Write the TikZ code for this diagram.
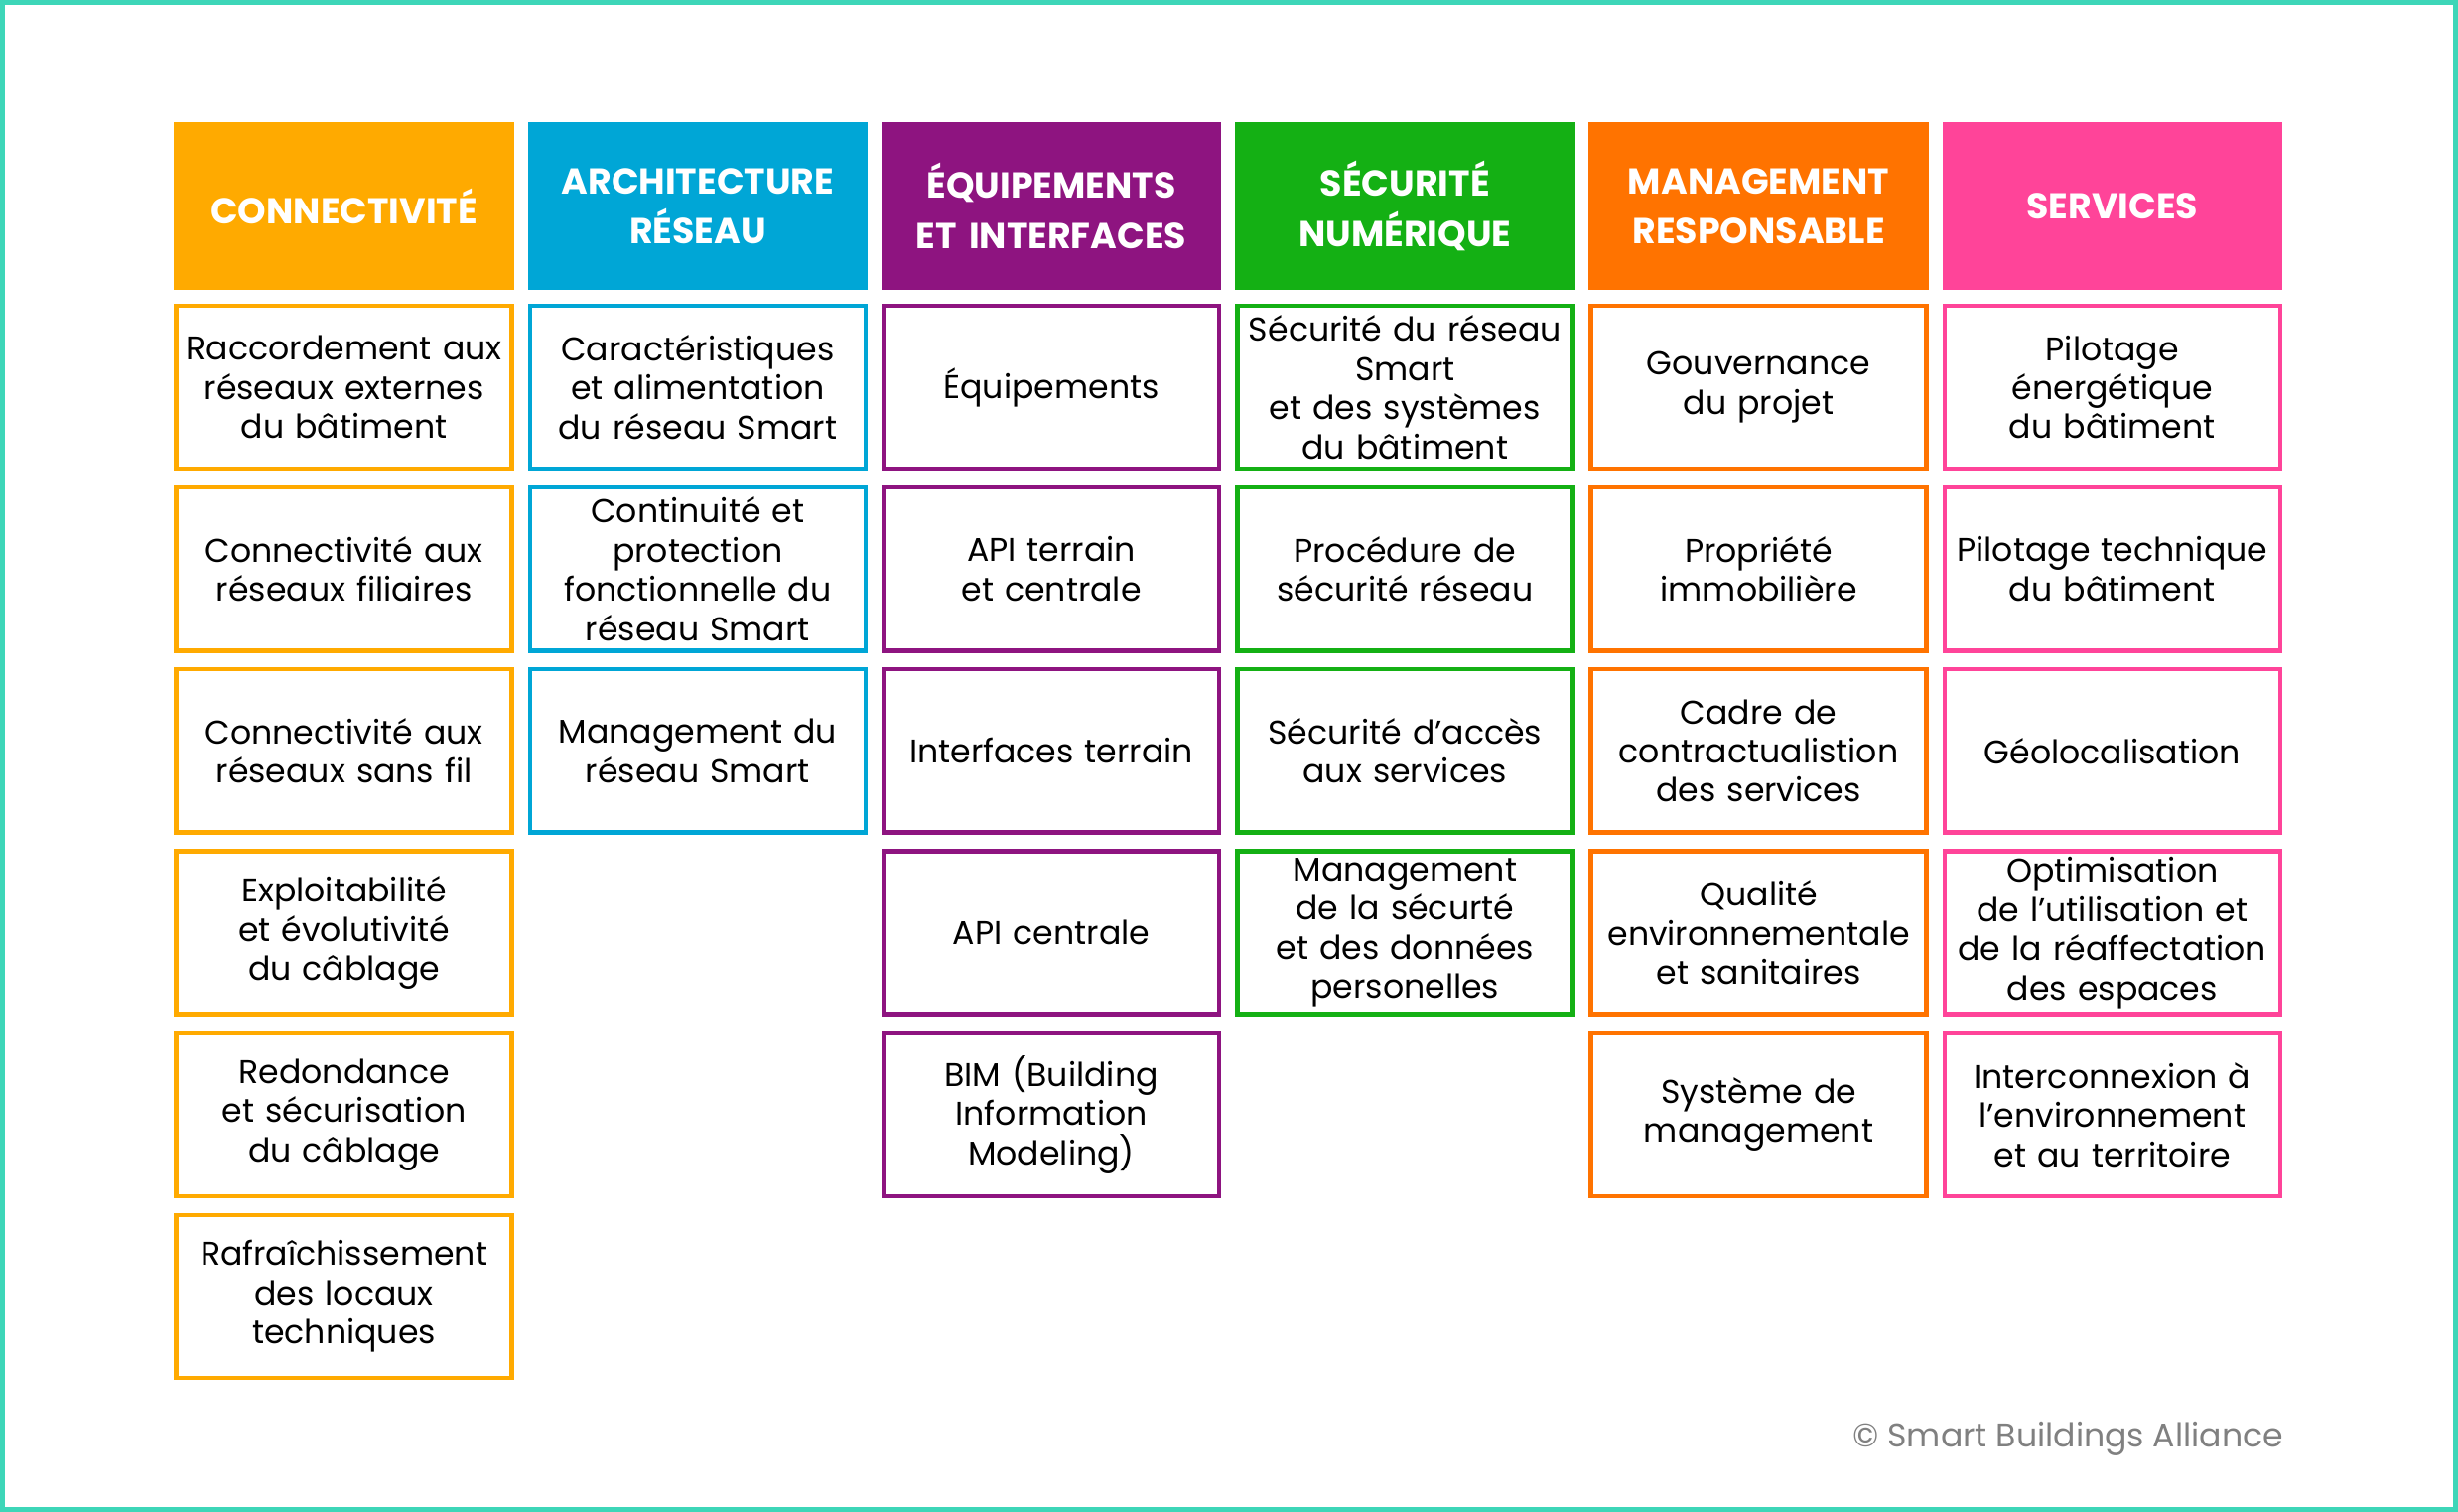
\documentclass[tikz,border=0pt]{standalone}
\usepackage{fontspec}
\setmainfont{Poppins}
\definecolor{cA}{HTML}{FFAA00}
\definecolor{cB}{HTML}{00A6D6}
\definecolor{cC}{HTML}{8E1480}
\definecolor{cD}{HTML}{14B014}
\definecolor{cE}{HTML}{FF7300}
\definecolor{cF}{HTML}{FF4499}
\definecolor{frame}{HTML}{3DD6B8}
\newcommand\colx[1]{\fpeval{219.5+225.6*(#1)}}
\newcommand\mkhead[4]{\node[head,fill=#3] (#1) at ({219.5+225.6*#2},131.5) {#4};}
\newcommand\mkcell[5]{\node[cell,draw=#4] (#1) at ({219.5+225.6*#2},{247+116*#3}) {#5};}
\begin{document}
\begin{tikzpicture}[x=0.5pt,y=-0.5pt,
 head/.style={minimum width=108.5pt,minimum height=53.5pt,inner sep=0pt,text=white,align=center,font=\fontsize{11.5}{16}\selectfont\bfseries,text width=106pt},
 cell/.style={minimum width=107pt,minimum height=52pt,inner sep=0pt,line width=1.4pt,align=center,text width=103pt,font=\fontsize{10.5}{12.5}\selectfont}]
\useasboundingbox (0,0) rectangle (1568,964);
\draw[frame,line width=2pt] (1,1) rectangle (1567,963);
\mkhead{h1}{0}{cA}{CONNECTIVITÉ}
\mkhead{h2}{1}{cB}{ARCHITECTURE\\RÉSEAU}
\mkhead{h3}{2}{cC}{ÉQUIPEMENTS\\ET INTERFACES}
\mkhead{h4}{3}{cD}{SÉCURITÉ\\NUMÉRIQUE}
\mkhead{h5}{4}{cE}{MANAGEMENT\\RESPONSABLE}
\mkhead{h6}{5}{cF}{SERVICES}
\mkcell{a0}{0}{0}{cA}{Raccordement aux\\réseaux externes\\du bâtiment}
\mkcell{a1}{0}{1}{cA}{Connectivité aux\\réseaux filiaires}
\mkcell{a2}{0}{2}{cA}{Connectivité aux\\réseaux sans fil}
\mkcell{a3}{0}{3}{cA}{Exploitabilité\\et évolutivité\\du câblage}
\mkcell{a4}{0}{4}{cA}{Redondance\\et sécurisation\\du câblage}
\mkcell{a5}{0}{5}{cA}{Rafraîchissement\\des locaux\\techniques}
\mkcell{b0}{1}{0}{cB}{Caractéristiques\\et alimentation\\du réseau Smart}
\mkcell{b1}{1}{1}{cB}{Continuité et\\protection\\fonctionnelle du\\réseau Smart}
\mkcell{b2}{1}{2}{cB}{Management du\\réseau Smart}
\mkcell{c0}{2}{0}{cC}{Équipements}
\mkcell{c1}{2}{1}{cC}{API terrain\\et centrale}
\mkcell{c2}{2}{2}{cC}{Interfaces terrain}
\mkcell{c3}{2}{3}{cC}{API centrale}
\mkcell{c4}{2}{4}{cC}{BIM (Building\\Information\\Modeling)}
\mkcell{d0}{3}{0}{cD}{Sécurité du réseau\\Smart\\et des systèmes\\du bâtiment}
\mkcell{d1}{3}{1}{cD}{Procédure de\\sécurité réseau}
\mkcell{d2}{3}{2}{cD}{Sécurité d’accès\\aux services}
\mkcell{d3}{3}{3}{cD}{Management\\de la sécurté\\et des données\\personelles}
\mkcell{e0}{4}{0}{cE}{Gouvernance\\du projet}
\mkcell{e1}{4}{1}{cE}{Propriété\\immobilière}
\mkcell{e2}{4}{2}{cE}{Cadre de\\contractualistion\\des services}
\mkcell{e3}{4}{3}{cE}{Qualité\\environnementale\\et sanitaires}
\mkcell{e4}{4}{4}{cE}{Système de\\management}
\mkcell{f0}{5}{0}{cF}{Pilotage\\énergétique\\du bâtiment}
\mkcell{f1}{5}{1}{cF}{Pilotage technique\\du bâtiment}
\mkcell{f2}{5}{2}{cF}{Géolocalisation}
\mkcell{f3}{5}{3}{cF}{Optimisation\\de l’utilisation et\\de la réaffectation\\des espaces}
\mkcell{f4}{5}{4}{cF}{Interconnexion à\\l’environnement\\et au territoire}
\node[anchor=east,text=gray,font=\fontsize{10.5}{12}\selectfont,inner sep=0pt] (copy) at (1457,918) {© Smart Buildings Alliance};
\end{tikzpicture}
\end{document}
